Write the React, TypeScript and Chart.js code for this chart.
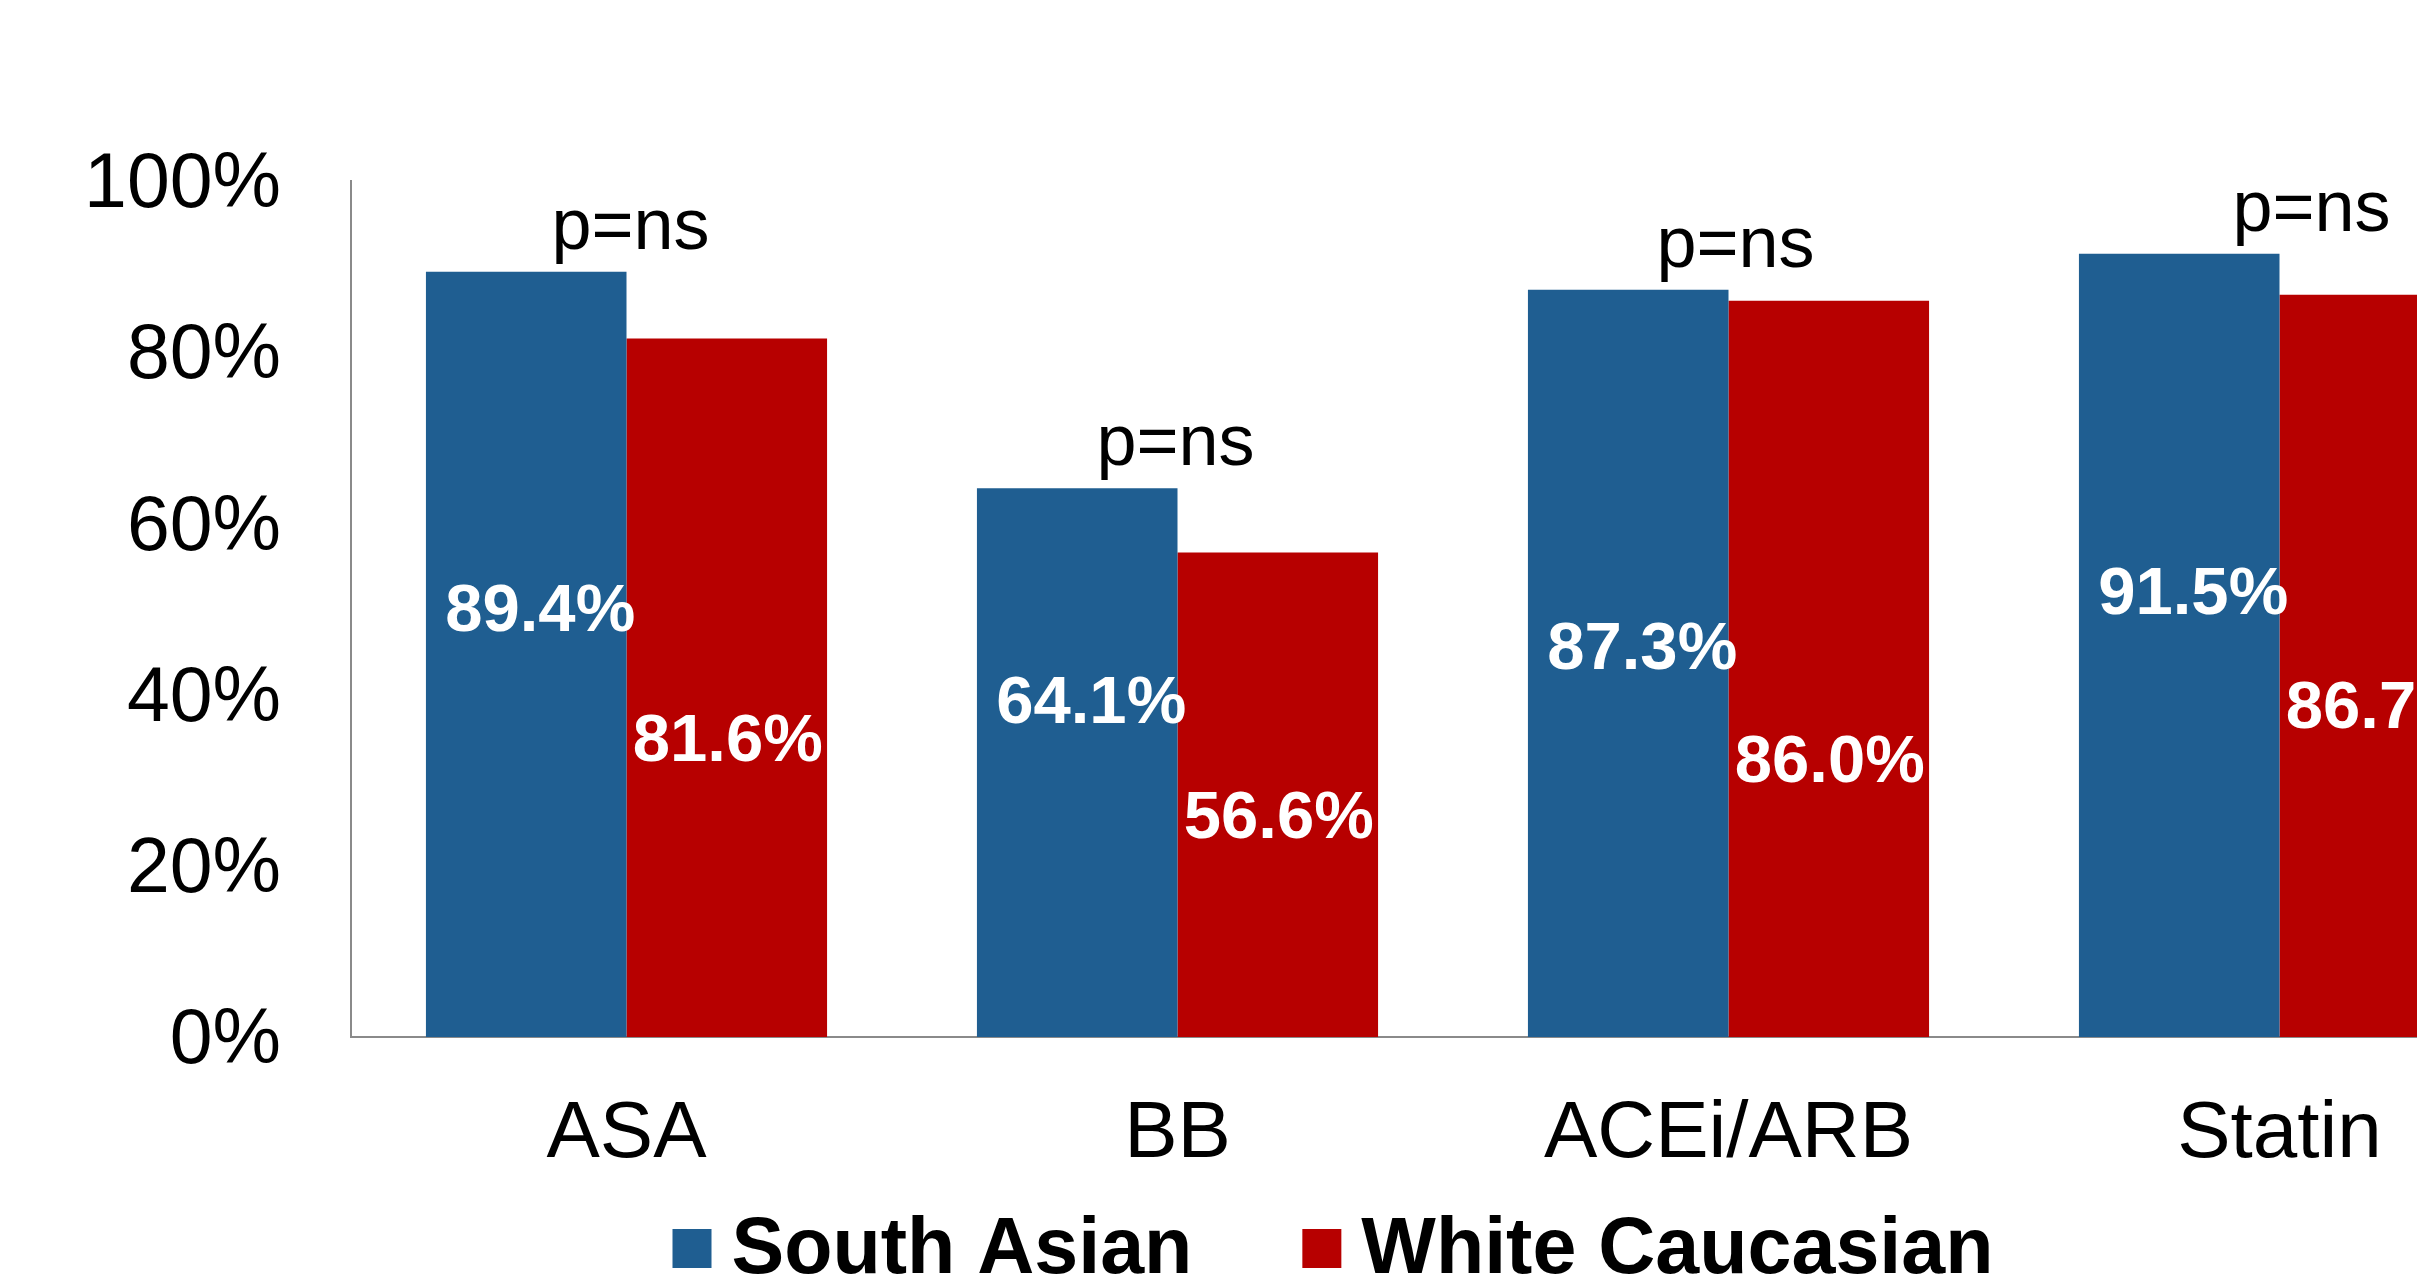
import React, { useEffect, useRef } from "react";
import { Chart, registerables } from "chart.js";

Chart.register(...registerables);

// ---- data ----
const categories = ["ASA", "BB", "ACEi/ARB", "Statin"];
const seriesNames = ["South Asian", "White Caucasian"];
const southAsian = [89.4, 64.1, 87.3, 91.5];
const whiteCaucasian = [81.6, 56.6, 86.0, 86.7];
const significance = ["p=ns", "p=ns", "p=ns", "p=ns"];
const yTicks = [0, 20, 40, 60, 80, 100];

// heights (axis %) at which the value labels sit inside the bars
const southAsianLabelAt = [50.2, 39.5, 45.8, 52.2];
const whiteCaucasianLabelAt = [35.0, 26.0, 32.6, 38.9];
// small horizontal nudges for the significance notes
const significanceNudgeX = [4, -2, 7, 32];

// ---- styling ----
const FONT = "'Liberation Sans', Arial, Helvetica, sans-serif";
const BLUE = "#1F5E91";
const RED = "#B70000";
const AXIS = "#8a8a8a";
const CANVAS_W = 2670;
const CANVAS_H = 1287;

const valueLabels = {
  id: "valueLabels",
  afterDatasetsDraw(chart: any) {
    const { ctx } = chart;
    const y = chart.scales.y;
    const size = 67;
    chart.data.datasets.forEach((ds: any, di: number) => {
      const meta = chart.getDatasetMeta(di);
      const at = di === 0 ? southAsianLabelAt : whiteCaucasianLabelAt;
      const dx = di === 0 ? 14 : 1;
      meta.data.forEach((bar: any, i: number) => {
        const v = ds.data[i] as number;
        ctx.save();
        ctx.font = `bold ${size}px ${FONT}`;
        ctx.fillStyle = "#ffffff";
        ctx.textAlign = "center";
        ctx.textBaseline = "alphabetic";
        ctx.fillText(`${v.toFixed(1)}%`, bar.x + dx, y.getPixelForValue(at[i]) + (0.716 * size) / 2);
        ctx.restore();
      });
    });
  },
};

const significanceNotes = {
  id: "significanceNotes",
  afterDatasetsDraw(chart: any) {
    const { ctx } = chart;
    const x = chart.scales.x;
    categories.forEach((_, i) => {
      let top = Infinity;
      chart.data.datasets.forEach((_ds: any, di: number) => {
        const bar = chart.getDatasetMeta(di).data[i];
        if (bar) top = Math.min(top, bar.y);
      });
      ctx.save();
      ctx.font = `72px ${FONT}`;
      ctx.fillStyle = "#000000";
      ctx.textAlign = "center";
      ctx.textBaseline = "alphabetic";
      ctx.fillText(significance[i], x.getPixelForValue(i) + significanceNudgeX[i], top - 23);
      ctx.restore();
    });
  },
};

const bottomLegend = {
  id: "bottomLegend",
  afterDraw(chart: any) {
    const { ctx } = chart;
    const size = 79;
    const box = 39;
    const gap = 20;
    const itemGap = 110;
    ctx.save();
    ctx.font = `bold ${size}px ${FONT}`;
    const items = chart.data.datasets.map((ds: any) => ({
      text: ds.label as string,
      color: ds.backgroundColor as string,
      w: ctx.measureText(ds.label).width,
    }));
    const total =
      items.reduce((s: number, it: any) => s + box + gap + it.w, 0) + itemGap * (items.length - 1);
    let x = chart.width / 2 - total / 2 - 2;
    const baseline = 1273;
    const boxTop = 1229;
    items.forEach((it: any) => {
      ctx.fillStyle = it.color;
      ctx.fillRect(x, boxTop, box, box);
      ctx.fillStyle = "#000000";
      ctx.textAlign = "left";
      ctx.textBaseline = "alphabetic";
      ctx.fillText(it.text, x + box + gap, baseline);
      x += box + gap + it.w + itemGap;
    });
    ctx.restore();
  },
};

export default function App() {
  const canvasRef = useRef<HTMLCanvasElement | null>(null);

  useEffect(() => {
    if (!canvasRef.current) return;
    const chart = new Chart(canvasRef.current, {
      type: "bar",
      data: {
        labels: categories,
        datasets: [
          {
            label: seriesNames[0],
            data: southAsian,
            backgroundColor: BLUE,
            categoryPercentage: 0.728,
            barPercentage: 1,
          },
          {
            label: seriesNames[1],
            data: whiteCaucasian,
            backgroundColor: RED,
            categoryPercentage: 0.728,
            barPercentage: 1,
          },
        ],
      },
      options: {
        responsive: false,
        animation: false,
        devicePixelRatio: 1,
        layout: { padding: { top: 181, right: 115, left: 0, bottom: 0 } },
        plugins: {
          legend: { display: false },
          tooltip: { enabled: false },
        },
        scales: {
          x: {
            grid: { display: false, drawTicks: false },
            border: { display: true, color: AXIS, width: 2 },
            ticks: {
              color: "#000000",
              font: { family: FONT, size: 80 },
              padding: 50,
              maxRotation: 0,
              autoSkip: false,
            },
            afterFit: (s: any) => {
              s.height = 250;
            },
          },
          y: {
            min: 0,
            max: 100,
            afterBuildTicks: (s: any) => {
              s.ticks = yTicks.map((v) => ({ value: v }));
            },
            grid: { display: false, drawTicks: false },
            border: { display: true, color: AXIS, width: 2 },
            ticks: {
              color: "#000000",
              font: { family: FONT, size: 77 },
              padding: 70,
              labelOffset: 5,
              callback: (v: any) => `${v}%`,
            },
            afterFit: (s: any) => {
              s.width = 351;
            },
          },
        },
      },
      plugins: [valueLabels, significanceNotes, bottomLegend],
    });
    return () => chart.destroy();
  }, []);

  return (
    <div
      style={{
        position: "absolute",
        left: 0,
        top: 0,
        width: 2417,
        height: 1287,
        overflow: "hidden",
        background: "#ffffff",
      }}
    >
      <canvas ref={canvasRef} width={CANVAS_W} height={CANVAS_H} style={{ display: "block" }} />
    </div>
  );
}
